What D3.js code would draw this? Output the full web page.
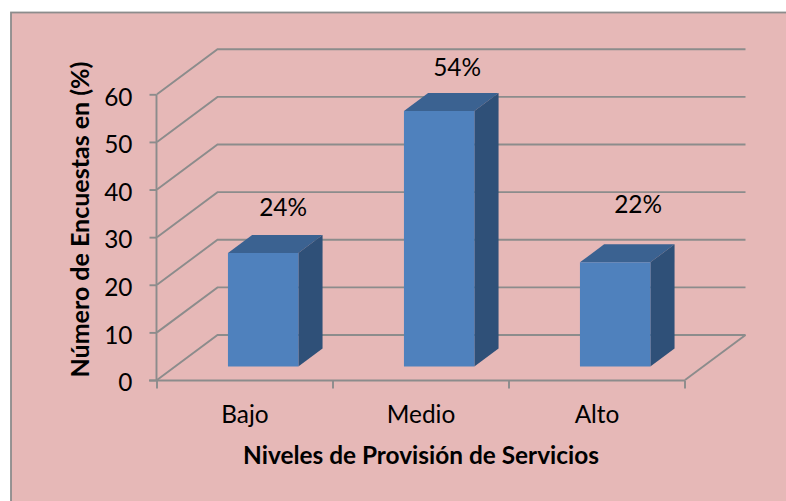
<!DOCTYPE html>
<html><head><meta charset="utf-8">
<script src="https://cdnjs.cloudflare.com/ajax/libs/d3/7.8.5/d3.min.js"></script>
<style>html,body{margin:0;padding:0;background:#fff}svg{display:block}text{font-family:Lato,"Open Sans",sans-serif;fill:#000}</style>
</head><body><svg id="c" width="786" height="501"></svg>
<script>
const categories=["Bajo","Medio","Alto"];
const values=[24,54,22];
const valueLabels=["24%","54%","22%"];
const yTicks=[0,10,20,30,40,50,60];
const yTitle="Número de Encuestas en (%)";
const xTitle="Niveles de Provisión de Servicios";

const svg=d3.select("#c");
const grid="#8c8c8c";
const fs=24.4;
const x=d3.scaleBand().domain(categories).range([157,685]).paddingInner(0.6).paddingOuter(0.3);
const y=d3.scaleLinear().domain([0,60]).range([380,94.3]);
const barY=d3.scaleLinear().domain([0,60]).range([380,96]);
const depthX=60.5, depthY=45;
const px=(v,z)=>v+z*depthX;
const py=(v,z)=>y(v)-z*depthY;
const bpy=(v,z)=>barY(v)-z*depthY;
const line=d3.line();

svg.append("rect").attr("x",11).attr("y",12.5).attr("width",790).attr("height",510)
  .attr("fill","#e6b8b7").attr("stroke","#8c8c8c").attr("stroke-width",1.8);

// walls
yTicks.forEach(t=>{
  svg.append("path").attr("fill","none").attr("stroke",grid).attr("stroke-width",1.9)
    .attr("d",line([[px(157,0),py(t,0)],[px(157,1),py(t,1)],[px(685,1),py(t,1)]]));
});
svg.append("path").attr("fill","none").attr("stroke",grid).attr("stroke-width",1.9)
  .attr("d",line([[px(685,0),py(0,0)],[px(685,1),py(0,1)]]));

// axes
const gy=svg.append("g").attr("transform","translate(156.5,0)").call(d3.axisLeft(y).tickValues(yTicks).tickSize(7).tickPadding(17).tickFormat(d3.format("d")));
gy.selectAll("path,line").attr("stroke",grid).attr("stroke-width",1.9);
gy.select(".domain").attr("d",`M0,${y(60)}V${y(0)}`);
gy.selectAll("text").attr("font-size",fs).attr("dy","0.44em").style("font-family","Lato").attr("fill","#000");
const gx=svg.append("g").attr("transform","translate(0,380.5)");
gx.append("line").attr("x1",149).attr("x2",685).attr("stroke",grid).attr("stroke-width",1.9);
const edges=categories.map(c=>x(c)-x.step()*0.3).concat([685]);
gx.selectAll("line.t").data(edges).join("line").attr("class","t").attr("x1",d=>d).attr("x2",d=>d).attr("y1",0).attr("y2",8).attr("stroke",grid).attr("stroke-width",1.9);
gx.selectAll("text").data(categories).join("text").attr("x",d=>x(d)+x.bandwidth()/2).attr("y",42.5).attr("text-anchor","middle").attr("font-size",fs).text(d=>d);

// bars
const z0=0.3,z1=0.7;
const bars=svg.append("g").selectAll("g").data(values).join("g");
const xl=(d,i)=>x(categories[i]), xr=(d,i)=>x(categories[i])+x.bandwidth();
bars.append("path").attr("fill","#3b6291").attr("d",(d,i)=>line([[px(xl(d,i),z0),bpy(d,z0)],[px(xr(d,i),z0),bpy(d,z0)],[px(xr(d,i),z1),bpy(d,z1)],[px(xl(d,i),z1),bpy(d,z1)]])+"Z");
bars.append("path").attr("fill","#2f5078").attr("d",(d,i)=>line([[px(xr(d,i),z0),bpy(d,z0)],[px(xr(d,i),z1),bpy(d,z1)],[px(xr(d,i),z1),bpy(0,z1)],[px(xr(d,i),z0),bpy(0,z0)]])+"Z");
bars.append("path").attr("fill","#4f81bd").attr("d",(d,i)=>line([[px(xl(d,i),z0),bpy(d,z0)],[px(xr(d,i),z0),bpy(d,z0)],[px(xr(d,i),z0),bpy(0,z0)],[px(xl(d,i),z0),bpy(0,z0)]])+"Z");

// data labels (placed by hand in the original)
const labelShiftX=[20,18,23], labelShiftY=[-37,-35,-49];
bars.append("text").attr("x",(d,i)=>px(xl(d,i)+x.bandwidth()/2,z0)+labelShiftX[i]).attr("y",(d,i)=>bpy(d,z0)+labelShiftY[i]).attr("text-anchor","middle").attr("font-size",fs).text((d,i)=>valueLabels[i]);

// titles
svg.append("text").attr("x",421).attr("y",464).attr("text-anchor","middle").attr("font-size",fs).attr("font-weight",700).text(xTitle);
svg.append("text").attr("transform","translate(89,219.5) rotate(-90)").attr("text-anchor","middle").attr("font-size",25).attr("font-weight",700).text(yTitle);
</script></body></html>
